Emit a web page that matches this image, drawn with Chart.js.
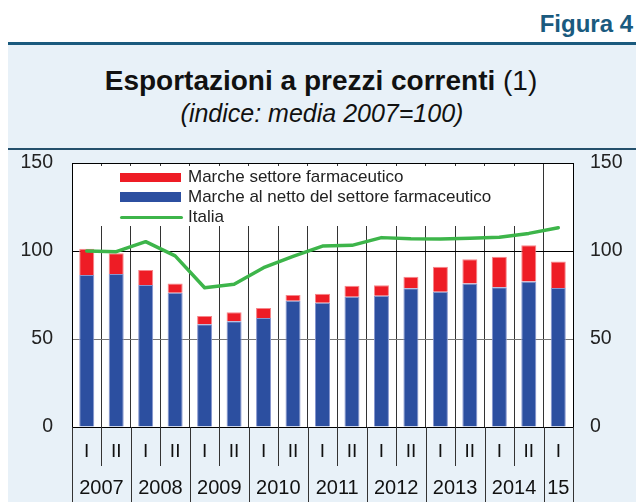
<!DOCTYPE html>
<html>
<head>
<meta charset="utf-8">
<script src="https://cdn.jsdelivr.net/npm/chart.js@4.4.1/dist/chart.umd.min.js"></script>
<style>
  html, body { margin: 0; padding: 0; background: #fff; }
  #wrap { position: relative; width: 636px; height: 502px; overflow: hidden; font-family: "Liberation Sans", Arial, sans-serif; }
  #panel { position: absolute; left: 8px; top: 45px; width: 628px; height: 457px; background: #e8f1f8; }
  #topline { position: absolute; left: 8px; top: 42px; width: 628px; height: 3px; background: #1a5a7e; }
  #titleline { position: absolute; left: 8px; top: 148px; width: 628px; height: 2px; background: #24506c; }
  #fig { position: absolute; right: 3px; top: 12px; font-size: 24px; line-height: 24px; font-weight: bold; color: #1a5a7e; }
  #title { position: absolute; left: 0; width: 642px; text-align: center; top: 66.5px; font-size: 28px; line-height: 28px; color: #111; }
  #title b { font-weight: bold; }
  #sub { position: absolute; left: 0; width: 644px; text-align: center; top: 100.5px; font-size: 25px; line-height: 25px; font-style: italic; color: #111; }
  #chart { position: absolute; left: 0; top: 0; }
  #legend { position: absolute; left: 73px; top: 166px; width: 469px; height: 60px; background: #fff; }
  .sw { position: absolute; left: 120px; width: 61px; }
  .lt { position: absolute; left: 188px; font-size: 17px; line-height: 20px; color: #222; white-space: nowrap; }
</style>
</head>
<body>
<div id="wrap">
  <div id="panel"></div>
  <div id="topline"></div>
  <div id="fig">Figura 4</div>
  <div id="title"><b>Esportazioni a prezzi correnti</b> (1)</div>
  <div id="sub">(indice: media 2007=100)</div>
  <div id="titleline"></div>
  <canvas id="chart" width="636" height="502"></canvas>
  <div id="legend"></div>
  <div class="sw" style="top:173px;height:9px;background:#ee1c25;"></div>
  <div class="sw" style="top:192px;height:10px;background:#2c4fa0;"></div>
  <div class="sw" style="top:215.5px;height:3.5px;width:63px;border-radius:2px;background:#3db54a;"></div>
  <div class="lt" style="top:167px;">Marche settore farmaceutico</div>
  <div class="lt" style="top:186.5px;">Marche al netto del settore farmaceutico</div>
  <div class="lt" style="top:207px;">Italia</div>
</div>
<script>
// Periods (half-years), 2007 I ... 2015 I
const halves = ['I','II','I','II','I','II','I','II','I','II','I','II','I','II','I','II','I'];
const years = ['2007','2008','2009','2010','2011','2012','2013','2014','15'];
const yearCenters = [1, 3, 5, 7, 9, 11, 13, 15, 16.5];
const yearBoundaries = [0, 2, 4, 6, 8, 10, 12, 14, 16, 17];
// Series
const nettoFarma = [86.4, 86.9, 80.7, 76.3, 58.4, 60.1, 61.9, 71.8, 70.6, 74.0, 74.6, 78.8, 76.9, 81.6, 79.4, 82.6, 79.0];
const farma      = [14.9, 11.8, 8.5, 5.3, 4.7, 5.1, 5.7, 3.2, 5.1, 6.3, 5.9, 6.6, 14.2, 13.7, 17.4, 20.6, 15.1];
const italia     = [100.0, 99.6, 105.3, 97.2, 79.1, 81.1, 90.5, 97.0, 102.8, 103.2, 107.6, 107.0, 106.8, 107.2, 107.8, 110.0, 113.2];
const yTicks = [0, 50, 100, 150];

const FONT = '"Liberation Sans", Arial, sans-serif';

const bgPlugin = {
  id: 'bg',
  beforeDraw(chart) {
    const a = chart.chartArea, ctx = chart.ctx;
    ctx.save();
    ctx.fillStyle = '#ffffff';
    ctx.fillRect(a.left, a.top, a.right - a.left, a.bottom - a.top);
    ctx.restore();
  },
  afterDraw(chart) {
    const a = chart.chartArea, ctx = chart.ctx, xs = chart.scales.x;
    const n = halves.length;
    ctx.save();
    ctx.strokeStyle = '#333';
    ctx.lineWidth = 1;
    for (let k = 0; k <= n; k++) {
      let x;
      if (k === 0) x = a.left;
      else if (k === n) x = a.right;
      else x = (xs.getPixelForValue(k - 1) + xs.getPixelForValue(k)) / 2;
      x = Math.round(x) + 0.5;
      const isYear = yearBoundaries.includes(k);
      const yEnd = isYear ? chart.height : chart.scales.x.bottom - 1;
      ctx.beginPath();
      ctx.moveTo(x, a.bottom);
      ctx.lineTo(x, yEnd);
      ctx.stroke();
    }
    ctx.restore();
  }
};

new Chart(document.getElementById('chart'), {
  data: {
    labels: halves,
    datasets: [
      { type: 'line', label: 'Italia', data: italia, borderColor: '#3db54a', borderWidth: 3.5,
        pointRadius: 0, tension: 0, stack: 'line', order: 0, borderCapStyle: 'round', borderJoinStyle: 'round' },
      { type: 'bar', label: 'Marche al netto del settore farmaceutico', data: nettoFarma, backgroundColor: '#2c4fa0',
        borderColor: '#8796cf', borderWidth: 1, stack: 'bars', order: 1, barPercentage: 0.51, categoryPercentage: 1 },
      { type: 'bar', label: 'Marche settore farmaceutico', data: farma, backgroundColor: '#ee1c25',
        borderColor: '#f6868b', borderWidth: 1, stack: 'bars', order: 1, barPercentage: 0.51, categoryPercentage: 1 }
    ]
  },
  options: {
    responsive: false,
    animation: false,
    events: [],
    layout: { padding: { top: 163, left: 0, right: 0, bottom: 0 } },
    plugins: { legend: { display: false }, tooltip: { enabled: false }, title: { display: false } },
    scales: {
      x: {
        type: 'category', position: 'bottom', stacked: true, weight: 0,
        offset: true,
        grid: { display: true, offset: true, drawOnChartArea: true, drawTicks: false, color: '#333', lineWidth: 1 },
        border: { display: true, color: '#000', width: 1 },
        ticks: { color: '#111', font: { family: FONT, size: 19 }, padding: 13, maxRotation: 0, autoSkip: false },
        afterFit(s) { s.height = 40; }
      },
      x2: {
        type: 'linear', position: 'bottom', min: 0, max: 17, weight: 1,
        grid: { display: false, drawTicks: false },
        border: { display: false },
        afterBuildTicks(s) { s.ticks = yearCenters.map(v => ({ value: v })); },
        ticks: { color: '#111', font: { family: FONT, size: 20 }, padding: 9, maxRotation: 0, autoSkip: false,
                 callback: (v, i) => years[i] },
        afterFit(s) { s.height = 35; }
      },
      y: {
        type: 'linear', position: 'left', stacked: true, min: 0, max: 150,
        afterBuildTicks(s) { s.ticks = yTicks.map(v => ({ value: v })); },
        grid: { drawTicks: false, color: (c) => (c.tick && c.tick.value === 50 ? '#777' : '#000'), lineWidth: 1 },
        border: { display: true, color: '#000', width: 1 },
        ticks: { color: '#222', font: { family: FONT, size: 19.5 }, padding: 19 },
        afterFit(s) { s.width = 72; }
      },
      y2: {
        type: 'linear', position: 'right', min: 0, max: 150,
        afterBuildTicks(s) { s.ticks = yTicks.map(v => ({ value: v })); },
        grid: { display: false, drawTicks: false },
        border: { display: true, color: '#000', width: 1 },
        ticks: { color: '#222', font: { family: FONT, size: 19.5 }, padding: 17 },
        afterFit(s) { s.width = 63; }
      }
    }
  },
  plugins: [bgPlugin]
});
</script>
</body>
</html>
